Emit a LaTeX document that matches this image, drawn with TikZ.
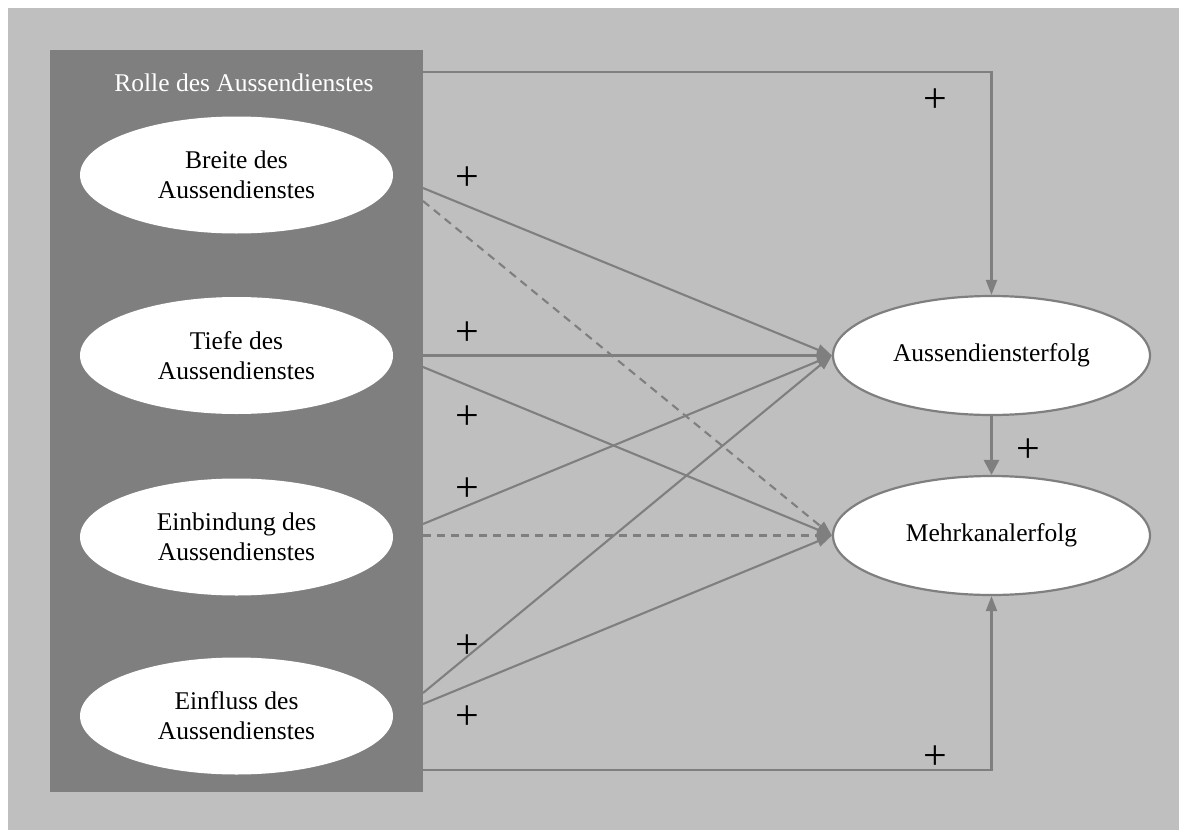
\documentclass[tikz,border=0pt]{standalone}
\usepackage{fontspec}
\setmainfont{Liberation Serif}
\usetikzlibrary{shapes.geometric,arrows.meta}
\definecolor{bg}{HTML}{BFBFBF}
\definecolor{panel}{HTML}{7F7F7F}
\definecolor{wire}{HTML}{7F7F7F}
\begin{document}
\begin{tikzpicture}[x=1pt,y=-1pt,
  factor/.style={ellipse, fill=white, minimum width=313pt, minimum height=117pt,
    inner sep=0pt, align=center, font=\fontsize{25.5}{30}\selectfont},
  outcome/.style={ellipse, fill=white, draw=wire, line width=2.2pt,
    minimum width=317pt, minimum height=119pt, inner sep=0pt,
    font=\fontsize{25.5}{30}\selectfont},
  link/.style={draw=wire, line width=2.1pt, -{Triangle[length=15pt,width=11pt]}},
  weak/.style={link, dash pattern=on 8pt off 6pt},
  sign/.style={inner sep=0pt, font=\fontsize{42}{42}\selectfont}
]
% page and background
\useasboundingbox (0,0) rectangle (1179,830);
\fill[white] (0,0) rectangle (1179,830);
\fill[bg] (8,8) rectangle (1179,830);

% panel with the four facets
\node[fill=panel, minimum width=373pt, minimum height=742pt, inner sep=0pt] (rolle) at (236.5,421) {};
\node[text=white, font=\fontsize{25.5}{30}\selectfont] (titel) at (244,83) {Rolle des Aussendienstes};

\node[factor] (breite) at (236.5,175) {Breite des\\Aussendienstes};
\node[factor] (tiefe) at (236.5,355.5) {Tiefe des\\Aussendienstes};
\node[factor] (einbindung) at (236.5,537) {Einbindung des\\Aussendienstes};
\node[factor] (einfluss) at (236.5,716) {Einfluss des\\Aussendienstes};

% outcomes
\node[outcome] (ae) at (991.5,355.5) {Aussendiensterfolg};
\node[outcome] (mk) at (991.5,535.5) {Mehrkanalerfolg};

% start points on the panel edge
\coordinate (r0) at (423,72);
\coordinate (b1) at (423,188);
\coordinate (b2) at (423,201);
\coordinate (t1) at (423,355.5);
\coordinate (t2) at (423,367);
\coordinate (e1) at (423,524);
\coordinate (e2) at (423,535.5);
\coordinate (f1) at (423,693);
\coordinate (f2) at (423,704);
\coordinate (r9) at (423,770);

% connectors
\draw[link] (r0) -| (ae.north);
\draw[link] (r9) -| (mk.south);
\draw[link] (b1) -- (ae.west);
\draw[weak] (b2) -- (mk.west);
\draw[link] (t1) -- (ae.west);
\draw[link] (t2) -- (mk.west);
\draw[link] (e1) -- (ae.west);
\draw[weak] (e2) -- (mk.west);
\draw[link] (f1) -- (ae.west);
\draw[link] (f2) -- (mk.west);
\draw[draw=wire, line width=3pt, -{Triangle[length=15pt,width=15pt]}] (ae.south) -- (mk.north);

% signs
\node[sign] (p1) at (935,101) {+};
\node[sign] (p2) at (467,179) {+};
\node[sign] (p3) at (467,334) {+};
\node[sign] (p4) at (467,418) {+};
\node[sign] (p5) at (467,490) {+};
\node[sign] (p6) at (467,647) {+};
\node[sign] (p7) at (467,718) {+};
\node[sign] (p8) at (1028,451) {+};
\node[sign] (p9) at (935,758) {+};
\end{tikzpicture}
\end{document}
